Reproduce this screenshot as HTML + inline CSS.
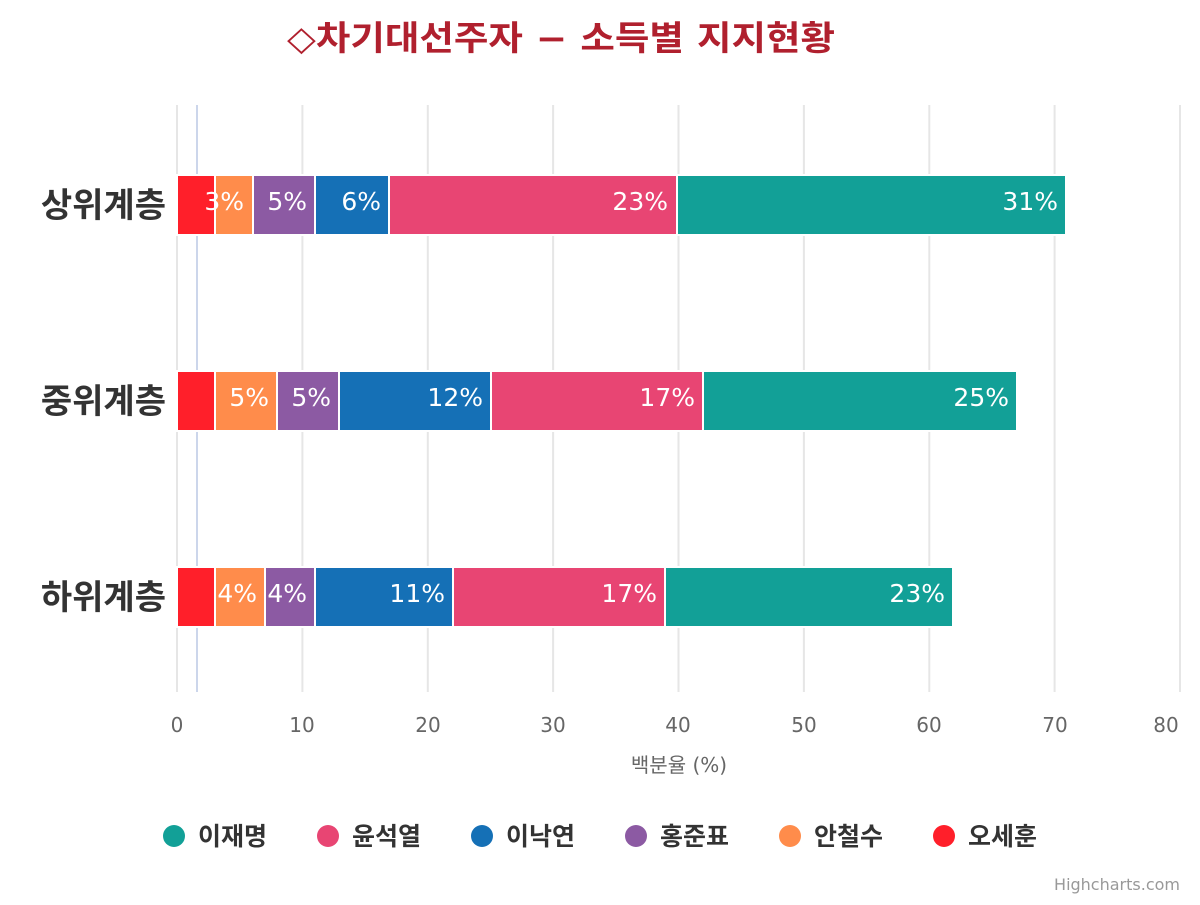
<!DOCTYPE html>
<html><head><meta charset="utf-8"><style>
body{margin:0;background:#fff;}
svg text{font-family:"DejaVu Sans","Noto Sans CJK KR",sans-serif;}
</style></head><body>
<svg width="1200" height="900" xmlns="http://www.w3.org/2000/svg">
<rect width="1200" height="900" fill="#fff"/>
<text x="561" y="50" text-anchor="middle" font-size="34" font-weight="bold" fill="#b0202e" textLength="548" lengthAdjust="spacingAndGlyphs">◇차기대선주자 − 소득별 지지현황</text>
<g stroke="#e6e6e6" stroke-width="2">
<line x1="177" y1="105" x2="177" y2="692"/><line x1="302.4" y1="105" x2="302.4" y2="692"/>
<line x1="427.8" y1="105" x2="427.8" y2="692"/><line x1="553.1" y1="105" x2="553.1" y2="692"/>
<line x1="678.5" y1="105" x2="678.5" y2="692"/><line x1="803.9" y1="105" x2="803.9" y2="692"/>
<line x1="929.3" y1="105" x2="929.3" y2="692"/><line x1="1054.6" y1="105" x2="1054.6" y2="692"/>
<line x1="1180" y1="105" x2="1180" y2="692"/>
</g>
<line x1="197" y1="105" x2="197" y2="692" stroke="#ccd6eb" stroke-width="2"/>
<g stroke="#fff" stroke-width="2">
<rect x="177" y="175" width="38" height="60" fill="#ff1f2a"/><rect x="215" y="175" width="38" height="60" fill="#ff8c4b"/><rect x="253" y="175" width="62" height="60" fill="#8c5aa3"/><rect x="315" y="175" width="74" height="60" fill="#1570b6"/><rect x="389" y="175" width="288" height="60" fill="#e84573"/><rect x="677" y="175" width="389" height="60" fill="#12a097"/>
<rect x="177" y="371" width="38" height="60" fill="#ff1f2a"/><rect x="215" y="371" width="62" height="60" fill="#ff8c4b"/><rect x="277" y="371" width="62" height="60" fill="#8c5aa3"/><rect x="339" y="371" width="152" height="60" fill="#1570b6"/><rect x="491" y="371" width="212" height="60" fill="#e84573"/><rect x="703" y="371" width="314" height="60" fill="#12a097"/>
<rect x="177" y="567" width="38" height="60" fill="#ff1f2a"/><rect x="215" y="567" width="50" height="60" fill="#ff8c4b"/><rect x="265" y="567" width="50" height="60" fill="#8c5aa3"/><rect x="315" y="567" width="138" height="60" fill="#1570b6"/><rect x="453" y="567" width="212" height="60" fill="#e84573"/><rect x="665" y="567" width="288" height="60" fill="#12a097"/>
</g>
<g fill="#fff" font-size="25" text-anchor="end">
<text x="244" y="210">3%</text><text x="307" y="210">5%</text><text x="381" y="210">6%</text><text x="668" y="210">23%</text><text x="1058" y="210">31%</text>
<text x="269" y="406">5%</text><text x="331" y="406">5%</text><text x="483" y="406">12%</text><text x="695" y="406">17%</text><text x="1009" y="406">25%</text>
<text x="257" y="602">4%</text><text x="307" y="602">4%</text><text x="445" y="602">11%</text><text x="657" y="602">17%</text><text x="945" y="602">23%</text>
</g>
<g font-size="34" font-weight="bold" fill="#333" text-anchor="end">
<text x="166" y="217">상위계층</text><text x="166" y="413">중위계층</text><text x="166" y="609">하위계층</text>
</g>
<g font-size="20" fill="#666" text-anchor="middle">
<text x="177" y="732">0</text><text x="302" y="732">10</text><text x="428" y="732">20</text><text x="553" y="732">30</text><text x="678" y="732">40</text><text x="804" y="732">50</text><text x="929" y="732">60</text><text x="1055" y="732">70</text><text x="1166" y="732">80</text>
<text x="679" y="772">백분율 (%)</text>
</g>
<g font-size="25" font-weight="bold" fill="#333">
<circle cx="174" cy="836" r="11" fill="#12a097"/><text x="198" y="845">이재명</text>
<circle cx="328" cy="836" r="11" fill="#e84573"/><text x="352" y="845">윤석열</text>
<circle cx="482" cy="836" r="11" fill="#1570b6"/><text x="506" y="845">이낙연</text>
<circle cx="636" cy="836" r="11" fill="#8c5aa3"/><text x="660" y="845">홍준표</text>
<circle cx="790" cy="836" r="11" fill="#ff8c4b"/><text x="814" y="845">안철수</text>
<circle cx="944" cy="836" r="11" fill="#ff1f2a"/><text x="968" y="845">오세훈</text>
</g>
<text x="1180" y="890" text-anchor="end" font-size="16" fill="#999">Highcharts.com</text>
</svg>
</body></html>
